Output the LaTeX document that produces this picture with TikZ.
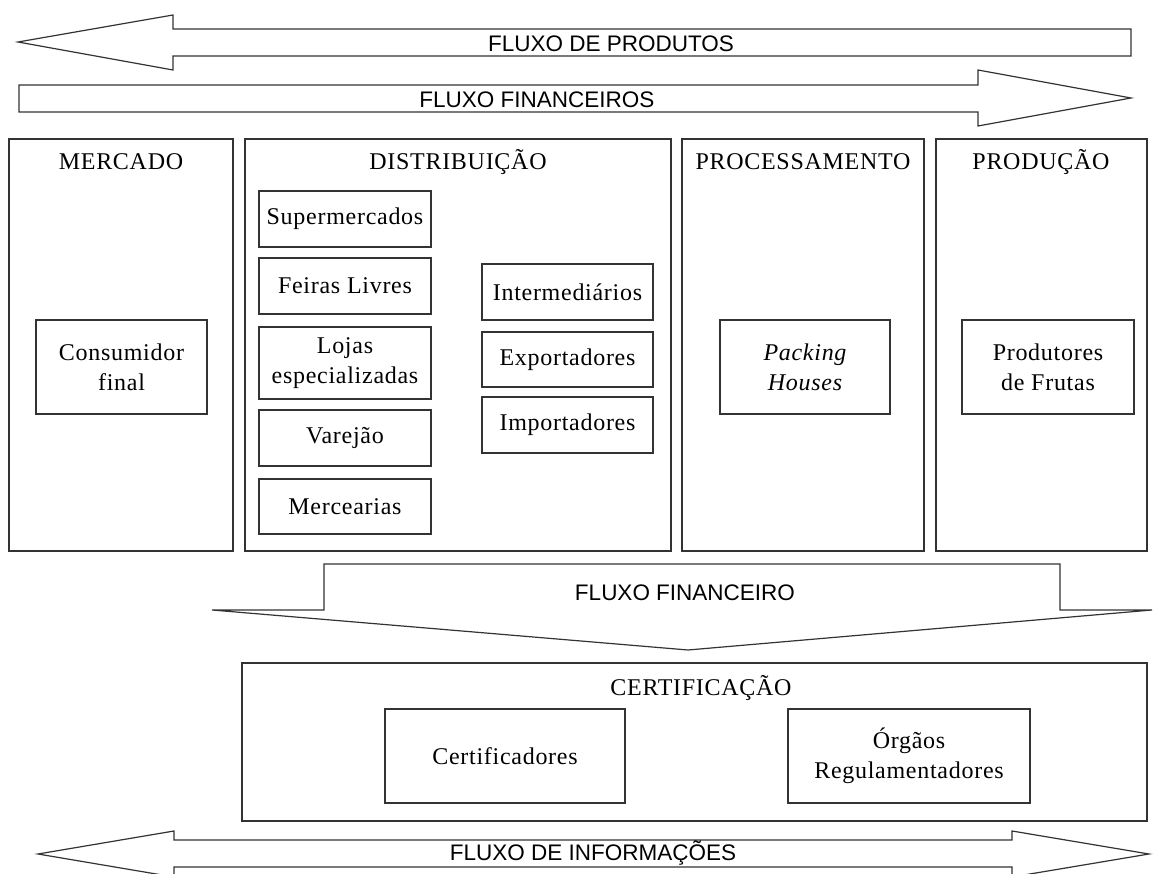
\documentclass[tikz,border=0pt]{standalone}
\usepackage{fontspec}
\setmainfont{Liberation Serif}
\newfontfamily\arialf{Liberation Sans}
\newfontfamily\serf[LetterSpace=3]{Liberation Serif}
\begin{document}
\begin{tikzpicture}[x=1pt,y=-1pt,
  line width=1.2pt,
  arrshape/.style={draw=black!80, line join=miter, fill=white},
  panel/.style={draw=black!80, fill=white},
  item/.style={draw=black!80, rectangle, inner sep=0pt, align=center,
    font={\serf\fontsize{24}{30}\selectfont}},
  ttl/.style={inner sep=0pt, font={\serf\fontsize{24}{30}\selectfont}},
  flx/.style={inner sep=0pt, font={\arialf\fontsize{22.5}{26}\selectfont}}]
\useasboundingbox (0,0) rectangle (1157,874);
\clip (0,0) rectangle (1157,874);
% top arrows
\draw[arrshape] (18,42) -- (173,15) -- (173,29) -- (1131,29) -- (1131,56) -- (173,56) -- (173,70) -- cycle;
\draw[arrshape] (19,85) -- (978,85) -- (978,70) -- (1131,98) -- (978,126) -- (978,112) -- (19,112) -- cycle;
\node[flx] (fprod) at (611,44) {FLUXO DE PRODUTOS};
\node[flx] (ffins) at (537,100) {FLUXO FINANCEIROS};
% panels
\draw[panel] (9,139) rectangle (233,551);
\draw[panel] (245,139) rectangle (671,551);
\draw[panel] (682,139) rectangle (924,551);
\draw[panel] (936,139) rectangle (1147,551);
\node[ttl] (tmerc) at (121,162) {MERCADO};
\node[ttl] (tdist) at (458,162) {DISTRIBUIÇÃO};
\node[ttl] (tproc) at (803,162) {PROCESSAMENTO};
\node[ttl] (tprod) at (1041,162) {PRODUÇÃO};
% items
\node[item, minimum width=171pt, minimum height=94pt] (cons) at (121.5,367) {Consumidor\\final};
\node[item, minimum width=172pt, minimum height=56pt] (super) at (345,219) {Supermercados};
\node[item, minimum width=172pt, minimum height=56pt] (feiras) at (345,286) {Feiras Livres};
\node[item, minimum width=172pt, minimum height=72pt] (lojas) at (345,363) {Lojas\\especializadas};
\node[item, minimum width=172pt, minimum height=56pt] (varejao) at (345,438) {Varejão};
\node[item, minimum width=172pt, minimum height=55pt] (merce) at (345,506.5) {Mercearias};
\node[item, minimum width=171pt, minimum height=56pt] (inter) at (567.5,292) {Intermediários};
\node[item, minimum width=171pt, minimum height=55pt] (export) at (567.5,359.5) {Exportadores};
\node[item, minimum width=171pt, minimum height=56pt] (import) at (567.5,425) {Importadores};
\node[item, minimum width=170pt, minimum height=94pt, font={\serf\itshape\fontsize{24}{30}\selectfont}] (pack) at (805,367) {Packing\\Houses};
\node[item, minimum width=172pt, minimum height=94pt] (produt) at (1048,367) {Produtores\\de Frutas};
% down arrow
\draw[arrshape] (324,564) -- (1060,564) -- (1060,610) -- (1152,610) -- (688,650) -- (212,610) -- (324,610) -- cycle;
\node[flx] (ffin) at (685,593) {FLUXO FINANCEIRO};
% certification
\draw[panel] (242,663) rectangle (1147,821);
\node[ttl] (tcert) at (701,688) {CERTIFICAÇÃO};
\node[item, minimum width=240pt, minimum height=94pt] (certif) at (505,756) {Certificadores};
\node[item, minimum width=242pt, minimum height=94pt] (orgaos) at (909,756) {Órgãos\\Regulamentadores};
% bottom arrow
\draw[arrshape] (38,854) -- (174,831) -- (174,840) -- (1012,840) -- (1012,831) -- (1149,854) -- (1012,877) -- (1012,867) -- (174,867) -- (174,877) -- cycle;
\node[flx] (finfo) at (593,853) {FLUXO DE INFORMAÇÕES};
\end{tikzpicture}
\end{document}
